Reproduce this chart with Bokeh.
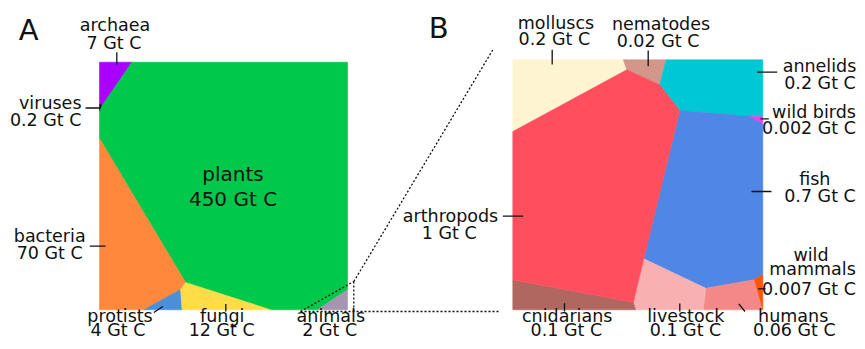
from bokeh.plotting import figure
from bokeh.models import Range1d, ColumnDataSource
from bokeh.core.properties import value
from bokeh.embed import file_html
from bokeh.resources import INLINE

# ---------------- DATA ----------------
# Panel A: all life (Voronoi cells, vertices in % of panel width / height, y upward)
a_names = ["archaea", "viruses", "plants", "bacteria", "protists", "fungi", "animals"]
a_biomass = ["7 Gt C", "0.2 Gt C", "450 Gt C", "70 Gt C", "4 Gt C", "12 Gt C", "2 Gt C"]
a_cell_u = [
    [0, 13.1, 1.1, 0],
    [0, 1.1, 0],
    [13.1, 100, 100, 87.8, 69.0, 34.7, 0, 0, 1.1],
    [0, 34.7, 32.7, 17.9, 0],
    [32.7, 33.3, 17.9],
    [34.7, 69.0, 33.3, 32.7],
    [100, 100, 87.8],
]
a_cell_v = [
    [100, 100, 82.5, 83.1],
    [83.1, 82.5, 80.1],
    [100, 100, 8.1, 0, 0, 11.0, 69.2, 80.1, 82.5],
    [69.2, 11.0, 8.2, 0, 0],
    [8.2, 0, 0],
    [11.0, 0, 0, 8.2],
    [8.1, 0, 0],
]

# Panel B: animals
b_names = ["molluscs", "nematodes", "annelids", "wild birds", "fish", "wild mammals",
           "humans", "livestock", "cnidarians", "arthropods"]
b_biomass = ["0.2 Gt C", "0.02 Gt C", "0.2 Gt C", "0.002 Gt C", "0.7 Gt C", "0.007 Gt C",
             "0.06 Gt C", "0.1 Gt C", "0.1 Gt C", "1 Gt C"]
b_cell_u = [
    [0, 44.2, 45.6, 0],
    [44.2, 61.4, 58.7, 45.6],
    [61.4, 100, 100, 94.8, 66.8, 58.7],
    [94.8, 100, 100],
    [66.8, 94.8, 100, 100, 96.4, 77.2, 52.4],
    [96.4, 100, 100, 99.8],
    [77.2, 96.4, 99.8, 76.2],
    [52.4, 77.2, 76.2, 49.1, 48.2],
    [0, 48.2, 49.1, 0],
    [0, 45.6, 58.7, 66.8, 52.4, 48.2, 0],
]
b_cell_v = [
    [100, 100, 96.0, 71.3],
    [100, 100, 90.0, 96.0],
    [100, 100, 77.2, 77.4, 79.7, 90.0],
    [77.4, 77.2, 74.3],
    [79.7, 77.4, 74.3, 14.1, 12.0, 8.6, 20.4],
    [12.0, 14.1, 0, 0],
    [8.6, 12.0, 0, 0],
    [20.4, 8.6, 0, 0, 3.0],
    [12.0, 3.0, 0, 0],
    [71.3, 96.0, 90.0, 79.7, 20.4, 3.0, 12.0],
]

# ---------------- STYLE / LAYOUT ----------------
a_colors = ["#aa00ff", "#111111", "#00c84b", "#ff883d", "#4a8fd9", "#ffdc48", "#a695b1"]
b_colors = ["#fff4d2", "#d3968b", "#00c7d4", "#ff3ce6", "#5086e6", "#ff5500",
            "#f48888", "#f9b0b0", "#b0675f", "#ff4f5f"]

W, H = 857, 341
def X(sx):  # picture px -> data x
    return sx
def Y(sy):
    return H - sy

A_FRAME = (99, 61.7, 347, 309.3)     # left, top, right, bottom (picture px)
B_FRAME = (512.3, 59.3, 762.3, 309.3)

def place(frame, us, vs):
    l, t, r, b = frame
    xs = [[X(l + u / 100 * (r - l)) for u in cu] for cu in us]
    ys = [[Y(b - v / 100 * (b - t)) for v in cv] for cv in vs]
    return xs, ys

p = figure(width=W, height=H, output_backend="svg", toolbar_location=None,
           x_range=Range1d(0, W), y_range=Range1d(0, H), min_border=0)
p.axis.visible = False
p.grid.visible = False
p.outline_line_color = None
p.background_fill_color = "white"
p.border_fill_color = "white"

axs, ays = place(A_FRAME, a_cell_u, a_cell_v)
p.patches(xs="xs", ys="ys", fill_color="color", line_color="color", line_width=0.6,
          source=ColumnDataSource(dict(xs=axs, ys=ays, color=a_colors, name=a_names)))
bxs, bys = place(B_FRAME, b_cell_u, b_cell_v)
p.patches(xs="xs", ys="ys", fill_color="color", line_color="color", line_width=0.6,
          source=ColumnDataSource(dict(xs=bxs, ys=bys, color=b_colors, name=b_names)))

# zoom connector (dashed)
dash_x = [[X(300), X(353.3)], [X(353.3), X(353.3)], [X(300), X(500)], [X(353.3), X(492.5)]]
dash_y = [[Y(311), Y(281)], [Y(281), Y(311)], [Y(311), Y(311)], [Y(281), Y(49)]]
p.multi_line(xs=dash_x, ys=dash_y, line_color="#111111", line_width=1.3, line_dash="2 2")

# leader lines (picture px)
leaders = [
    (116.3, 51.7, 116.3, 64), (85, 107.5, 100, 107.5), (89.3, 245.7, 105, 245.7),
    (153.3, 312, 162.3, 306), (225.3, 303.5, 225.3, 311),
    (551.7, 49.3, 551.7, 64), (647.7, 50, 647.7, 65.7), (756.7, 71.7, 776.7, 71.7),
    (760, 118.3, 768.3, 118.3), (751, 191, 771, 191), (502.3, 215.7, 522.7, 215.7),
    (757.7, 288.3, 765, 288.3), (564, 302.7, 564, 311), (679.3, 303, 679.3, 311),
    (738.3, 303.3, 744.5, 311),
]
p.multi_line(xs=[[X(a), X(c)] for a, b, c, d in leaders],
             ys=[[Y(b), Y(d)] for a, b, c, d in leaders],
             line_color="#111111", line_width=1.3)

FONT = value("DejaVu Sans")
# bokeh svg "alphabetic" anchor sits this many px above the drawn baseline (per font size)
OFFSET = {17.5: 4.5, 20: 6.5, 29: 12.5}
# text line anchors (x centre / baseline, picture px)
label_pos = {
    "archaea": [(114.5, 29.3), (113.5, 46.7)],
    "viruses": [(81, 107.3), (81, 124.3)],
    "plants": [(232.5, 180), (232.5, 205)],
    "bacteria": [(49.2, 239.5), (49.2, 257)],
    "protists": [(119.5, 320), (117.5, 333.5)],
    "fungi": [(221.7, 320), (221.2, 333.5)],
    "animals": [(330.3, 320), (329.2, 333.5)],
    "molluscs": [(555.5, 26.7), (553.8, 43.3)],
    "nematodes": [(660.5, 28.3), (657.5, 45.3)],
    "annelids": [(819, 70), (819.5, 86.7)],
    "wild birds": [(813.5, 115.7), (808.5, 132.3)],
    "fish": [(814.3, 183.3), (819.5, 200)],
    "arthropods": [(450, 220), (448.7, 236.7)],
    "wild mammals": [(810.5, 259), (812, 273.3), (808.5, 293.3)],
    "cnidarians": [(566.7, 320), (565.8, 333.5)],
    "livestock": [(685.3, 320), (685, 333.5)],
    "humans": [(792.7, 320), (793.8, 333.5)],
}
tx, ty, tt, ta, ts = [], [], [], [], []
for names, vals in ((a_names, a_biomass), (b_names, b_biomass)):
    for n, v in zip(names, vals):
        lines = n.split(" ") if n == "wild mammals" else [n]
        lines = lines + [v]
        fs = 20 if n == "plants" else 17.5
        for s, (sx, sy) in zip(lines, label_pos[n]):
            tx.append(X(sx)); ty.append(Y(sy - OFFSET[fs])); tt.append(s)
            ta.append("right" if n == "viruses" else "center")
            ts.append(f"{fs}px")

p.text(x="x", y="y", text="t", text_align="a", text_font_size="s",
       text_baseline="alphabetic", text_font=FONT, text_color="#111111",
       source=ColumnDataSource(dict(x=tx, y=ty, t=tt, a=ta, s=ts)))

p.text(x=[X(18.3), X(428.3)], y=[Y(41.7 - OFFSET[29]), Y(40.3 - OFFSET[29])], text=["A", "B"],
       text_align="left", text_baseline="alphabetic", text_font=FONT,
       text_font_size="29px", text_color="#111111")

open("out.html", "w").write(file_html(p, INLINE))
